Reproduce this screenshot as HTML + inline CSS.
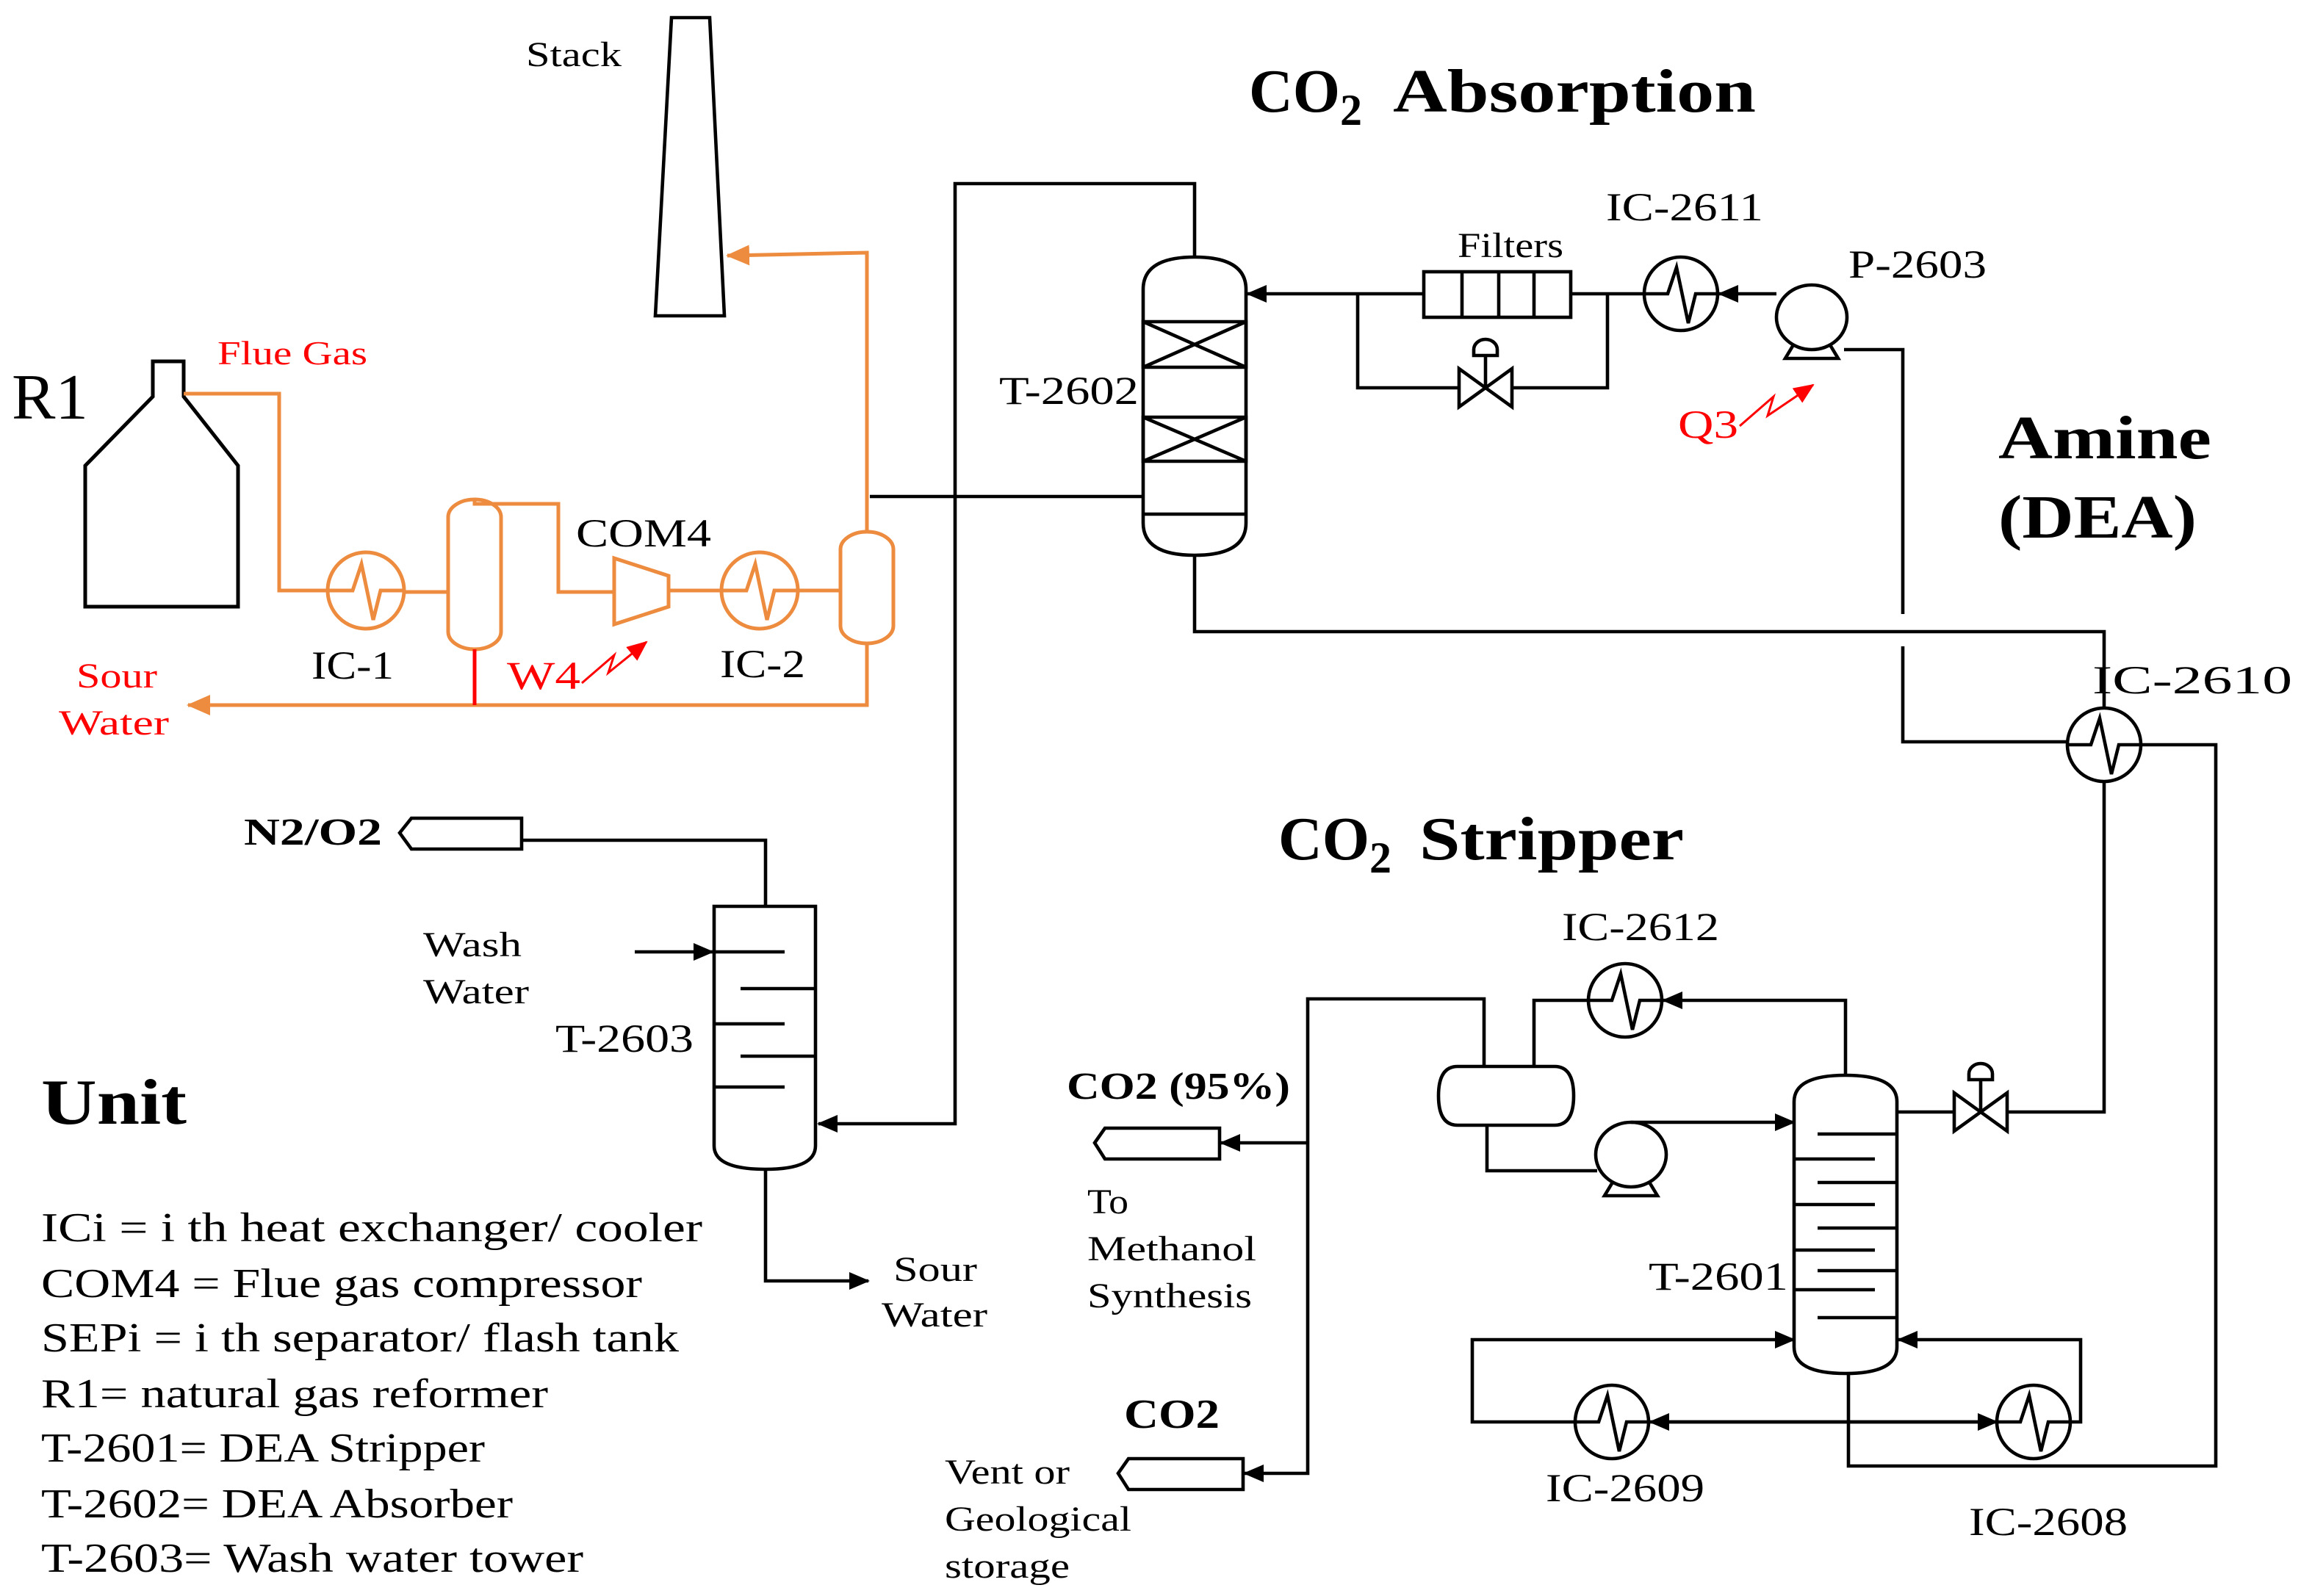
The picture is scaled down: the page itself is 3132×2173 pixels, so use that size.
<!DOCTYPE html>
<html><head><meta charset="utf-8"><style>
html,body{margin:0;padding:0;background:#fff;}
svg{display:block;}
text{font-family:"Liberation Serif",serif;fill:#000;}
.b{font-weight:bold;}
.r{fill:#ff0000;}
</style></head><body>
<svg width="3132" height="2173" viewBox="0 0 1566 1086.5" xmlns="http://www.w3.org/2000/svg">
<defs>
<g id="hxk" fill="none" stroke="#000" stroke-width="2.3"><circle r="25"/><path d="M-25 0 L-9 0 L-3 -18 L5 20 L10 0 L25 0"/></g>
<g id="hxo" fill="none" stroke="#ED8B3F" stroke-width="2.5"><circle r="26"/><path d="M-26 0 L-9 0 L-3 -18 L5 20 L10 0 L26 0"/></g>
<g id="pump" fill="none" stroke="#000" stroke-width="2.3"><ellipse rx="24" ry="22"/><path d="M-12 18 L-18 28 L18 28 L12 18"/></g>
<g id="valve" fill="none" stroke="#000" stroke-width="2.3"><path d="M-18 -13 L18 13 L18 -13 L-18 13 Z"/><line x1="0" y1="0" x2="0" y2="-22"/><path d="M-8 -22 L8 -22 L8 -26 A8 7 0 0 0 -8 -26 Z"/></g>
<marker id="ak" markerWidth="14" markerHeight="14" refX="13" refY="7" orient="auto" markerUnits="userSpaceOnUse"><path d="M0 1 L14 7 L0 13 Z" fill="#000"/></marker>
<marker id="ao" markerWidth="16" markerHeight="16" refX="15" refY="8" orient="auto" markerUnits="userSpaceOnUse"><path d="M0 1 L16 8 L0 15 Z" fill="#ED8B3F"/></marker>
<marker id="ar" markerWidth="14" markerHeight="14" refX="13" refY="7" orient="auto" markerUnits="userSpaceOnUse"><path d="M0 1 L14 7 L0 13 Z" fill="#ff0000"/></marker>
</defs>

<!-- Stack -->
<path d="M457 12 L483 12 L493 215 L446 215 Z" fill="none" stroke="#000" stroke-width="2.3"/>
<text x="358" y="45" font-size="24" textLength="65" lengthAdjust="spacingAndGlyphs">Stack</text>

<!-- R1 -->
<text x="8" y="285" font-size="44" textLength="52" lengthAdjust="spacingAndGlyphs">R1</text>
<path d="M104 270 L104 246 L125 246 L125 270 L162 317 L162 413 L58 413 L58 317 Z" fill="none" stroke="#000" stroke-width="2.5"/>
<text x="148" y="248" font-size="23" class="r" textLength="102" lengthAdjust="spacingAndGlyphs">Flue Gas</text>

<!-- orange train -->
<g fill="none" stroke="#ED8B3F" stroke-width="2.5">
<path d="M125 268 L190 268 L190 402 L223 402"/>
<path d="M275 403 L305 403"/>
<rect x="305" y="340" width="36" height="102" rx="18" ry="12"/>
<path d="M323 340 L323 343 L380 343 L380 403 L418 403"/>
<path d="M418 380 L455 392 L455 413 L418 425 Z"/>
<path d="M455 402 L491 402"/>
<path d="M543 402 L572 402"/>
<rect x="572" y="362" width="36" height="76" rx="18" ry="12"/>
<path d="M590 362 L590 172 L495 174" marker-end="url(#ao)"/>
<path d="M590 438 L590 480 L128 480" marker-end="url(#ao)"/>
</g>
<line x1="323" y1="442" x2="323" y2="480" stroke="#ff0000" stroke-width="2.5"/>
<use href="#hxo" x="249" y="402"/>
<use href="#hxo" x="517" y="402"/>
<text x="212" y="462" font-size="27" textLength="56" lengthAdjust="spacingAndGlyphs">IC-1</text>
<text x="490" y="461" font-size="27" textLength="58" lengthAdjust="spacingAndGlyphs">IC-2</text>
<text x="392" y="372" font-size="27" textLength="92" lengthAdjust="spacingAndGlyphs">COM4</text>
<text x="345" y="469" font-size="27" class="r" textLength="50" lengthAdjust="spacingAndGlyphs">W4</text>
<path d="M396 465 L418 446 L414 458 L440 437" fill="none" stroke="#ff0000" stroke-width="1.5" marker-end="url(#ar)"/>
<text x="52" y="468" font-size="24" class="r" textLength="55" lengthAdjust="spacingAndGlyphs">Sour</text>
<text x="40" y="500" font-size="24" class="r" textLength="75" lengthAdjust="spacingAndGlyphs">Water</text>

<!-- absorber -->
<text x="850" y="76" font-size="42" class="b" textLength="62" lengthAdjust="spacingAndGlyphs">CO</text>
<text x="912" y="85" font-size="30" class="b">2</text>
<text x="948" y="76" font-size="42" class="b" textLength="247" lengthAdjust="spacingAndGlyphs">Absorption</text>
<g fill="none" stroke="#000" stroke-width="2.3">
<path d="M778 197 Q778 175 813 175 Q848 175 848 197 L848 356 Q848 378 813 378 Q778 378 778 356 Z"/>
<path d="M778 219 L848 219 L848 250 L778 250 Z M778 219 L848 250 M848 219 L778 250"/>
<path d="M778 284 L848 284 L848 314 L778 314 Z M778 284 L848 314 M848 284 L778 314"/>
<line x1="778" y1="350" x2="848" y2="350"/>
<path d="M813 175 L813 125 L650 125 L650 765 L557 765" marker-end="url(#ak)"/>
<path d="M592 338 L778 338"/>
<path d="M969 200 L849 200" marker-end="url(#ak)"/>
<rect x="969" y="185" width="100" height="31"/>
<path d="M995 185 V216 M1020 185 V216 M1044 185 V216"/>
<path d="M1069 200 L1119 200"/>
<path d="M924 200 L924 264 L994 264 M1029 264 L1094 264 L1094 200"/>
<path d="M1209 200 L1170 200" marker-end="url(#ak)"/>
<path d="M1255 238 L1295 238 L1295 418"/>
<path d="M1295 440 L1295 505 L1406 505"/>
<path d="M813 378 L813 430 L1432 430 L1432 481"/>
<path d="M1458 507 L1508 507 L1508 998 L1258 998 L1258 935"/>
<path d="M1432 533 L1432 757 L1366 757 M1329 757 L1291 757"/>
</g>
<use href="#valve" x="1011" y="264"/>
<use href="#hxk" x="1144" y="200"/>
<use href="#pump" x="1233" y="216"/>
<use href="#hxk" x="1432" y="507"/>
<use href="#valve" x="1348" y="757"/>
<text x="680" y="275" font-size="27" textLength="95" lengthAdjust="spacingAndGlyphs">T-2602</text>
<text x="992" y="175" font-size="24" textLength="72" lengthAdjust="spacingAndGlyphs">Filters</text>
<text x="1093" y="150" font-size="27" textLength="107" lengthAdjust="spacingAndGlyphs">IC-2611</text>
<text x="1258" y="189" font-size="27" textLength="94" lengthAdjust="spacingAndGlyphs">P-2603</text>
<text x="1142" y="298" font-size="27" class="r" textLength="41" lengthAdjust="spacingAndGlyphs">Q3</text>
<path d="M1184 290 L1207 270 L1203 283 L1234 262" fill="none" stroke="#ff0000" stroke-width="1.5" marker-end="url(#ar)"/>
<text x="1360" y="312" font-size="42" class="b" textLength="145" lengthAdjust="spacingAndGlyphs">Amine</text>
<text x="1360" y="366" font-size="42" class="b" textLength="135" lengthAdjust="spacingAndGlyphs">(DEA)</text>
<text x="1424" y="472" font-size="27" textLength="136" lengthAdjust="spacingAndGlyphs">IC-2610</text>

<!-- stripper -->
<text x="870" y="585" font-size="42" class="b" textLength="62" lengthAdjust="spacingAndGlyphs">CO</text>
<text x="932" y="594" font-size="30" class="b">2</text>
<text x="966" y="585" font-size="42" class="b" textLength="180" lengthAdjust="spacingAndGlyphs">Stripper</text>
<g fill="none" stroke="#000" stroke-width="2.3">
<path d="M1221 750 Q1221 732 1256 732 Q1291 732 1291 750 L1291 917 Q1291 935 1256 935 Q1221 935 1221 917 Z"/>
<path d="M1237 772 H1291 M1221 789 H1276 M1237 805 H1291 M1221 820 H1276 M1237 836 H1291 M1221 851 H1276 M1237 865 H1291 M1221 878 H1276 M1237 897 H1291"/>
<path d="M992 726 L1058 726 Q1071 726 1071 746 Q1071 766 1058 766 L992 766 Q979 766 979 746 Q979 726 992 726 Z"/>
<path d="M1010 726 L1010 680 L890 680 L890 1003 L847 1003" marker-end="url(#ak)"/>
<path d="M890 778 L831 778" marker-end="url(#ak)"/>
<path d="M1044 726 L1044 681 L1081 681"/>
<path d="M1256 732 L1256 681 L1132 681" marker-end="url(#ak)"/>
<path d="M1012 766 L1012 797 L1087 797"/>
<path d="M1110 764 L1221 764" marker-end="url(#ak)"/>
<path d="M1072 968 L1002 968 L1002 912 L1221 912" marker-end="url(#ak)"/>
<path d="M1359 968 L1123 968" marker-end="url(#ak)"/>
<path d="M1124 968 L1359 968" marker-end="url(#ak)"/>
<path d="M1409 968 L1416 968 L1416 912 L1292 912" marker-end="url(#ak)"/>
<path d="M745 778 L752 768 L830 768 L830 789 L752 789 Z"/>
<path d="M761 1003 L768 993 L846 993 L846 1014 L768 1014 Z"/>
</g>
<use href="#hxk" x="1106" y="681"/>
<use href="#pump" x="1110" y="786"/>
<use href="#hxk" x="1097" y="968"/>
<use href="#hxk" x="1384" y="968"/>
<text x="1063" y="640" font-size="27" textLength="107" lengthAdjust="spacingAndGlyphs">IC-2612</text>
<text x="1122" y="878" font-size="27" textLength="95" lengthAdjust="spacingAndGlyphs">T-2601</text>
<text x="1052" y="1022" font-size="27" textLength="108" lengthAdjust="spacingAndGlyphs">IC-2609</text>
<text x="1340" y="1045" font-size="27" textLength="108" lengthAdjust="spacingAndGlyphs">IC-2608</text>
<text x="726" y="748" font-size="26" class="b" textLength="152" lengthAdjust="spacingAndGlyphs">CO2 (95%)</text>
<text x="740" y="826" font-size="24" textLength="28" lengthAdjust="spacingAndGlyphs">To</text>
<text x="740" y="858" font-size="24" textLength="115" lengthAdjust="spacingAndGlyphs">Methanol</text>
<text x="740" y="890" font-size="24" textLength="112" lengthAdjust="spacingAndGlyphs">Synthesis</text>
<text x="765" y="972" font-size="28" class="b" textLength="65" lengthAdjust="spacingAndGlyphs">CO2</text>
<text x="643" y="1010" font-size="24" textLength="85" lengthAdjust="spacingAndGlyphs">Vent or</text>
<text x="643" y="1042" font-size="24" textLength="127" lengthAdjust="spacingAndGlyphs">Geological</text>
<text x="643" y="1074" font-size="24" textLength="85" lengthAdjust="spacingAndGlyphs">storage</text>

<!-- T-2603 -->
<g fill="none" stroke="#000" stroke-width="2.3">
<path d="M486 617 L555 617 L555 780 Q555 796 521 796 Q486 796 486 780 Z"/>
<path d="M486 648 H534 M504 673 H555 M486 697 H534 M504 719 H555 M486 740 H534"/>
<path d="M521 617 L521 572 L355 572"/>
<path d="M272 567 L280 557 L355 557 L355 578 L280 578 Z"/>
<path d="M432 648 L485 648" marker-end="url(#ak)"/>
<path d="M521 796 L521 872 L591 872" marker-end="url(#ak)"/>
</g>
<text x="166" y="575" font-size="26" class="b" textLength="94" lengthAdjust="spacingAndGlyphs">N2/O2</text>
<text x="288" y="651" font-size="24" textLength="67" lengthAdjust="spacingAndGlyphs">Wash</text>
<text x="288" y="683" font-size="24" textLength="72" lengthAdjust="spacingAndGlyphs">Water</text>
<text x="378" y="716" font-size="27" textLength="94" lengthAdjust="spacingAndGlyphs">T-2603</text>
<text x="608" y="872" font-size="24" textLength="57" lengthAdjust="spacingAndGlyphs">Sour</text>
<text x="600" y="903" font-size="24" textLength="72" lengthAdjust="spacingAndGlyphs">Water</text>

<!-- legend -->
<text x="28" y="765" font-size="44" class="b" textLength="99" lengthAdjust="spacingAndGlyphs">Unit</text>
<g font-size="28">
<text x="28" y="845" textLength="450" lengthAdjust="spacingAndGlyphs">ICi =  i th heat exchanger/ cooler</text>
<text x="28" y="883" textLength="409" lengthAdjust="spacingAndGlyphs">COM4 = Flue gas compressor</text>
<text x="28" y="920" textLength="434" lengthAdjust="spacingAndGlyphs">SEPi = i th separator/ flash tank</text>
<text x="28" y="958" textLength="345" lengthAdjust="spacingAndGlyphs">R1= natural gas reformer</text>
<text x="28" y="995" textLength="302" lengthAdjust="spacingAndGlyphs">T-2601= DEA Stripper</text>
<text x="28" y="1033" textLength="321" lengthAdjust="spacingAndGlyphs">T-2602= DEA Absorber</text>
<text x="28" y="1070" textLength="369" lengthAdjust="spacingAndGlyphs">T-2603= Wash water tower</text>
</g>
</svg>
</body></html>
